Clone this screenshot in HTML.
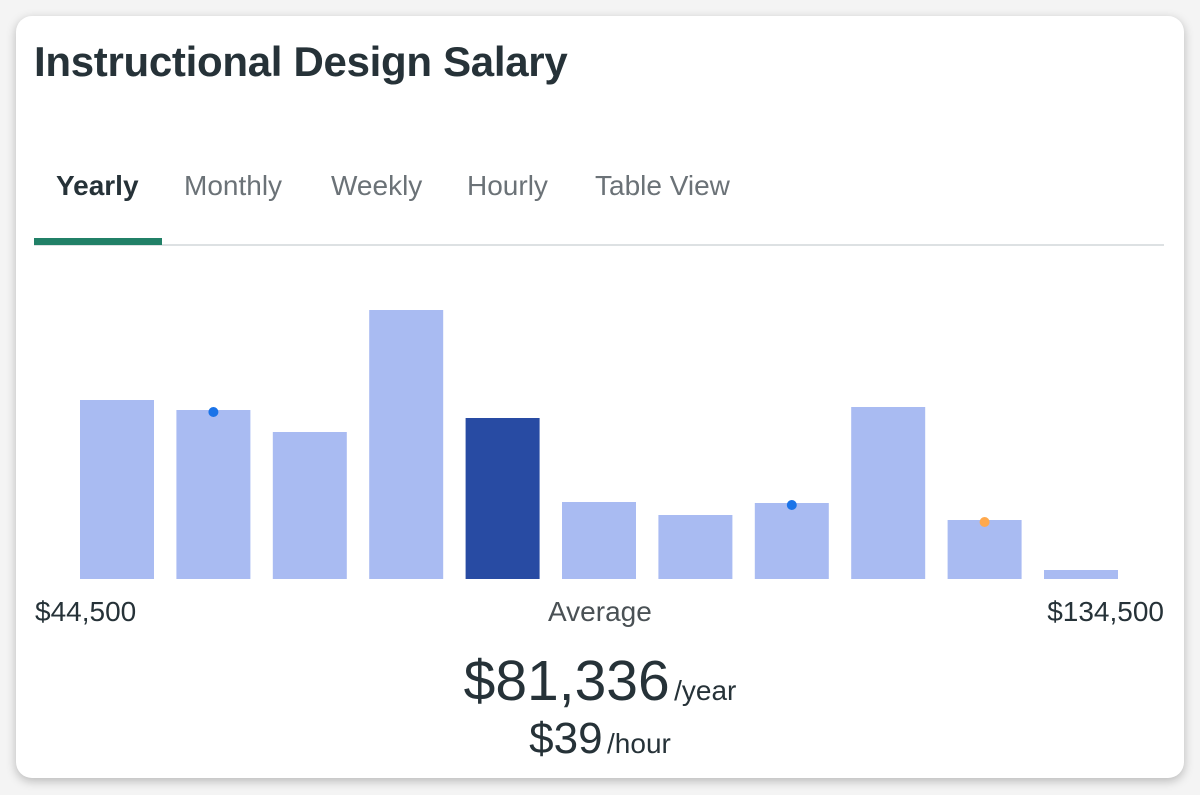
<!DOCTYPE html>
<html><head><meta charset="utf-8"><style>
body{margin:0;width:1200px;height:795px;background:#f4f4f4;font-family:"Liberation Sans",sans-serif;position:relative;overflow:hidden}
.card{position:absolute;left:16px;top:16px;width:1168px;height:762px;background:#fff;border-radius:16px;box-shadow:0 3px 10px rgba(0,0,0,.25)}
.t{position:absolute;white-space:nowrap}
</style></head><body>
<div class="card"></div>
<div class="t" style="left:34px;top:38px;font-size:42px;font-weight:bold;color:#263238;letter-spacing:-0.3px">Instructional Design Salary</div>
<div class="t" style="left:56px;top:170px;font-size:28px;font-weight:bold;color:#263238">Yearly</div>
<div class="t" style="left:184px;top:170px;font-size:28px;color:#6b7277">Monthly</div>
<div class="t" style="left:331px;top:170px;font-size:28px;color:#6b7277">Weekly</div>
<div class="t" style="left:467px;top:170px;font-size:28px;color:#6b7277">Hourly</div>
<div class="t" style="left:595px;top:170px;font-size:28px;color:#6b7277">Table View</div>
<div style="position:absolute;left:34px;top:244px;width:1130px;height:2px;background:#dde1e3"></div>
<div style="position:absolute;left:34px;top:238px;width:128px;height:7px;background:#218067"></div>
<svg id="chart" width="1200" height="795" style="position:absolute;left:0;top:0"></svg>
<div class="t" style="left:35px;top:596px;font-size:28px;color:#263238">$44,500</div>
<div class="t" style="left:548px;top:596px;font-size:28px;color:#4a5155">Average</div>
<div class="t" style="right:36px;top:596px;font-size:28px;color:#263238">$134,500</div>
<div class="t" style="left:0;width:1200px;text-align:center;top:648px;color:#263238"><span style="font-size:57px">$81,336</span> <span style="font-size:28px">/year</span></div>
<div class="t" style="left:0;width:1200px;text-align:center;top:714px;color:#263238"><span style="font-size:44px">$39</span> <span style="font-size:28px">/hour</span></div>
<script>
const values=[179,169,147,269,161,77,64,76,172,59,9];
const highlight=[false,false,false,false,true,false,false,false,false,false,false];
const markerBins=[1,7,9];
const markerColors=["#1a73e8","#1a73e8","#ffa94d"];
const svg=document.getElementById('chart');
const NS='http://www.w3.org/2000/svg';
const x0=80,step=96.4,bw=74,base=579,maxV=270,plotH=270;
const xs=i=>x0+i*step;
const ys=v=>base-v/maxV*plotH;
values.forEach((v,i)=>{
 const r=document.createElementNS(NS,'rect');
 r.setAttribute('x',xs(i));r.setAttribute('y',ys(v));r.setAttribute('width',bw);r.setAttribute('height',base-ys(v));
 r.setAttribute('fill',highlight[i]?'#284ba3':'#a9bbf2');
 
 
 svg.appendChild(r);
});
markerBins.forEach((b,k)=>{
 const c=document.createElementNS(NS,'circle');
 c.setAttribute('cx',xs(b)+bw/2);c.setAttribute('cy',ys(values[b])+2);c.setAttribute('r',5);
 c.setAttribute('fill',markerColors[k]);
 
 
 svg.appendChild(c);
});
</script>
</body></html>
